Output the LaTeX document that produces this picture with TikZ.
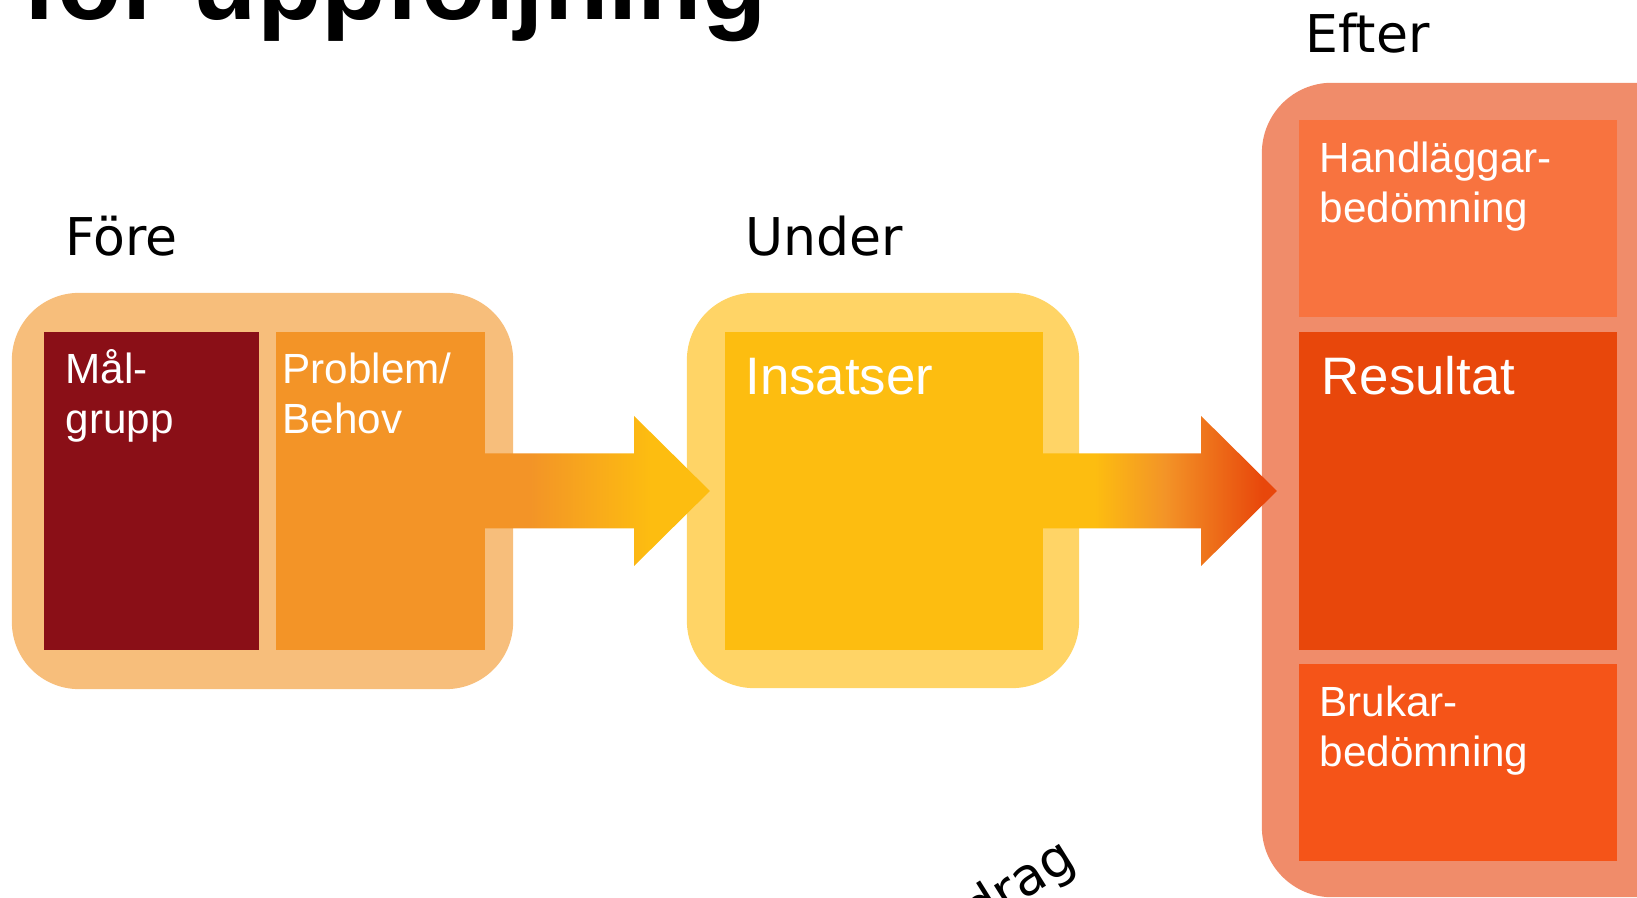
\documentclass[tikz,border=0pt]{standalone}
\usepackage{fontspec}
\usepackage{tikz}
\usetikzlibrary{calc}
\setmainfont{Liberation Sans}
\newfontfamily\headfont{DejaVu Sans}

\definecolor{forecol}{HTML}{F7BE7B}
\definecolor{malcol}{HTML}{8A0F17}
\definecolor{probcol}{HTML}{F39427}
\definecolor{undercol}{HTML}{FFD466}
\definecolor{inscol}{HTML}{FDBD10}
\definecolor{eftercol}{HTML}{F08C6A}
\definecolor{handcol}{HTML}{F8733F}
\definecolor{rescol}{HTML}{E8470B}
\definecolor{brukcol}{HTML}{F55418}

\pgfdeclarehorizontalshading{arrowA}{100bp}{color(0bp)=(probcol); color(35bp)=(probcol); color(62bp)=(inscol); color(100bp)=(inscol)}
\pgfdeclarehorizontalshading{arrowB}{100bp}{color(0bp)=(inscol); color(36bp)=(inscol); color(51bp)=(probcol); color(72bp)=(rescol); color(100bp)=(rescol)}

\begin{document}
\begin{tikzpicture}[x=0.01cm, y=-0.01cm,
  frame/.style={rectangle, rounded corners=0.67cm, inner sep=0pt, outer sep=0pt},
  panel/.style={rectangle, inner sep=0pt, outer sep=0pt},
  boxtext/.style={text=white, font=\fontsize{12}{14.4}\selectfont, align=left, inner sep=0pt, anchor=base west},
  bigtext/.style={text=white, font=\fontsize{15}{18}\selectfont, inner sep=0pt, anchor=base west},
  headtext/.style={font=\headfont\fontsize{14.8}{18}\selectfont, inner sep=0pt, anchor=base west}]
\useasboundingbox (0,0) rectangle (1637,898);
\clip (0,0) rectangle (1637,898);

% outer frames
\node[frame, fill=forecol, minimum width=5.01cm, minimum height=3.96cm] (fore) at (262.5,491) {};
\node[frame, fill=undercol, minimum width=3.92cm, minimum height=3.95cm] (under) at (883,490.5) {};
\node[frame, fill=eftercol, rounded corners=0.7cm, minimum width=4.48cm, minimum height=8.14cm] (efter) at (1486,490) {};

% panels
\node[panel, fill=malcol, minimum width=2.15cm, minimum height=3.18cm] (mal) at (151.5,491) {};
\node[panel, fill=probcol, minimum width=2.09cm, minimum height=3.18cm] (prob) at (380.5,491) {};
\node[panel, fill=inscol, minimum width=3.18cm, minimum height=3.18cm] (ins) at (884,491) {};
\node[panel, fill=handcol, minimum width=3.18cm, minimum height=1.97cm] (hand) at (1458,218.5) {};
\node[panel, fill=rescol, minimum width=3.18cm, minimum height=3.18cm] (res) at (1458,491) {};
\node[panel, fill=brukcol, minimum width=3.18cm, minimum height=1.97cm] (bruk) at (1458,762.5) {};

% arrows
\coordinate (headA) at ($(prob.east)+(149,0)$);
\coordinate (tipA) at ($(under.west)+(23,0.5)$);
\shade[shading=arrowA] ($(prob.east)+(0,-37.5)$) -- ($(headA)+(0,-37.5)$) -- ($(headA)+(0,-75)$)
  -- (tipA) -- ($(headA)+(0,75)$) -- ($(headA)+(0,37.5)$) -- ($(prob.east)+(0,37.5)$) -- cycle;
\coordinate (headB) at ($(ins.east)+(158,0)$);
\coordinate (tipB) at ($(efter.west)+(15,1)$);
\shade[shading=arrowB] ($(ins.east)+(0,-37.5)$) -- ($(headB)+(0,-37.5)$) -- ($(headB)+(0,-75)$)
  -- (tipB) -- ($(headB)+(0,75)$) -- ($(headB)+(0,37.5)$) -- ($(ins.east)+(0,37.5)$) -- cycle;

% texts
\node[boxtext] (maltext) at ($(mal.north west)+(21,102)$) {Mål-\\grupp};
\node[boxtext] (probtext) at ($(prob.north west)+(6,102)$) {Problem/\\Behov};
\node[bigtext] (instext) at ($(ins.north west)+(20,63)$) {Insatser};
\node[boxtext] (handtext) at ($(hand.north west)+(20,103)$) {Handläggar-\\bedömning};
\node[bigtext] (restext) at ($(res.north west)+(22,63)$) {Resultat};
\node[boxtext] (bruktext) at ($(bruk.north west)+(20,103)$) {Brukar-\\bedömning};

\node[headtext] (forehead) at ($(fore.north west)+(53,-37)$) {Före};
\node[headtext] (underhead) at ($(under.north west)+(58,-37)$) {Under};
\node[headtext] (efterhead) at ($(efter.north west)+(43,-30)$) {Efter};

\node[font=\bfseries\fontsize{30}{36}\selectfont, inner sep=0pt, anchor=base west] (title) at (22,20) {för uppföljning};
\node[font=\headfont\fontsize{14.8}{18}\selectfont, inner sep=0pt, anchor=base east, rotate=32] (drag) at (1079,866) {drag};
\end{tikzpicture}
\end{document}
